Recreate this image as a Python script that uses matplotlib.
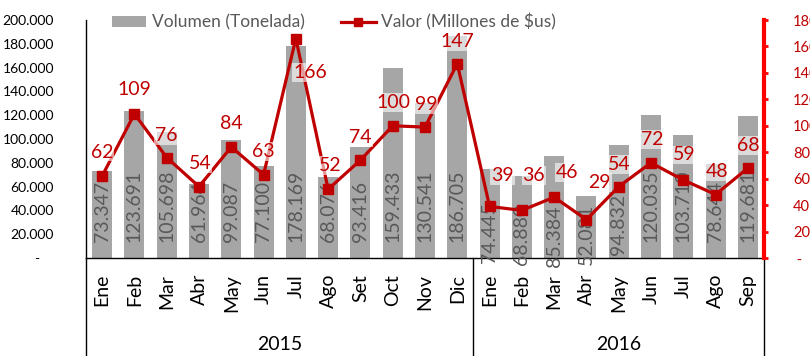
import matplotlib
matplotlib.use('Agg')
import matplotlib.pyplot as plt
import matplotlib.transforms as mtransforms
from matplotlib.patches import Patch
from matplotlib.lines import Line2D
import numpy as np

plt.rcParams['font.family'] = ['Lato', 'DejaVu Sans']

# Monthly exports
months = ['Ene', 'Feb', 'Mar', 'Abr', 'May', 'Jun', 'Jul', 'Ago', 'Set', 'Oct', 'Nov', 'Dic',
          'Ene', 'Feb', 'Mar', 'Abr', 'May', 'Jun', 'Jul', 'Ago', 'Sep']
years = ['2015', '2016']
year_len = [12, 9]
volumen = [73347, 123691, 105698, 61964, 99087, 77100, 178169, 68076, 93416, 159433, 130541, 186705,
           74445, 68880, 85384, 52081, 94832, 120035, 103710, 78644, 119681]
valor = [62, 109, 76, 54, 84, 63, 166, 52, 74, 100, 99, 147,
         39, 36, 46, 29, 54, 72, 59, 48, 68]

# Label offsets (pixels)
vol_lbl_dy = [16] * 12 + [-5, -7, -9, -7, 3, 16, 16, 16, 16]
val_lbl_off = [(0, 24), (0, 24), (0, 22), (1, 23), (0, 23), (0, 23), (14, -34), (2, 24), (0, 23),
               (1, 23), (1, 23), (0, 22), (13, 31), (12, 35), (13, 25), (13, 37), (1, 22),
               (1, 23), (1, 25), (2, 23), (0, 23)]

RED = '#C00000'
GRAY = '#A6A6A6'
TXT = '#595959'

fig = plt.figure(figsize=(8.1, 3.56), dpi=100)
ax = fig.add_axes([86 / 810, 98 / 356, 678 / 810, 238 / 356])

x = np.arange(len(months))
ax.bar(x, volumen, width=0.62, color=GRAY, zorder=2)
ax.set_xlim(-0.5, len(months) - 0.5)
ax.set_ylim(0, 200000)
yt = np.arange(0, 200001, 20000)
ax.set_yticks(yt)
ax.set_yticklabels(['-    '] + [f'{v:,}'.replace(',', '.') for v in yt[1:]], fontsize=10)
ax.tick_params(axis='y', length=0, pad=23, colors='black')
ax.set_xticks([])
for s in ['top', 'right']:
    ax.spines[s].set_visible(False)
ax.spines['left'].set_linewidth(1.0)
ax.spines['bottom'].set_linewidth(1.0)

# Volume labels inside the bars
for i, v in enumerate(volumen):
    ax.annotate(f'{v:,}'.replace(',', '.'), (i, 0), xytext=(0, vol_lbl_dy[i]),
                textcoords='offset pixels', rotation=90, ha='center', va='bottom',
                color=TXT, fontsize=14, zorder=3)

# Value line on the secondary axis
ax2 = ax.twinx()
ax2.plot(x, valor, color=RED, lw=2.3, marker='s', ms=7.5, zorder=4)
ax2.set_ylim(0, 180)
yt2 = np.arange(0, 181, 20)
ax2.set_yticks(yt2)
ax2.set_yticklabels([' -'] + [str(v) for v in yt2[1:]], fontsize=10.5)
ax2.tick_params(axis='y', direction='out', length=3, width=2, color='#FF0000',
                labelcolor=RED, pad=18)
for s in ['top', 'left', 'bottom']:
    ax2.spines[s].set_visible(False)
ax2.spines['right'].set_color('#FF0000')
ax2.spines['right'].set_linewidth(3)

for i, v in enumerate(valor):
    dx, dy = val_lbl_off[i]
    ax2.annotate(str(v), (i, v), xytext=(dx, dy), textcoords='offset pixels',
                 ha='center', va='center', color=RED, fontsize=14, zorder=5,
                 bbox=dict(boxstyle='square,pad=0.05', fc='white', ec='none', alpha=0.6))

# Category axis: months and years with separators
trans = mtransforms.blended_transform_factory(ax.transData, ax.transAxes)
off = mtransforms.offset_copy(ax.transData, fig=fig, x=0, y=-16, units='dots')
for i, m in enumerate(months):
    ax.text(i, 0, m, transform=off, rotation=90, ha='center', va='top', fontsize=14)

bounds = np.concatenate([[0], np.cumsum(year_len)]) - 0.5
for b in bounds:
    ax.plot([b, b], [0, -98 / 238], transform=trans, color='black', lw=1.0, clip_on=False)
for k, yr in enumerate(years):
    ax.text((bounds[k] + bounds[k + 1]) / 2, -87 / 238, yr, transform=trans,
            ha='center', va='center', fontsize=14)

# Legend
handles = [Patch(facecolor=GRAY, edgecolor='none'),
           Line2D([], [], color=RED, lw=2.3, marker='s', ms=6)]
fig.legend(handles, ['Volumen (Tonelada)', 'Valor (Millones de $us)'], ncol=2,
           loc='upper left', bbox_to_anchor=(103 / 810, 1 - 5 / 356), frameon=False,
           fontsize=12.5, labelcolor=TXT, borderpad=0, handlelength=2.0, handleheight=0.6,
           handletextpad=0.3, columnspacing=2.1)

fig.savefig('out.png', dpi=100)
